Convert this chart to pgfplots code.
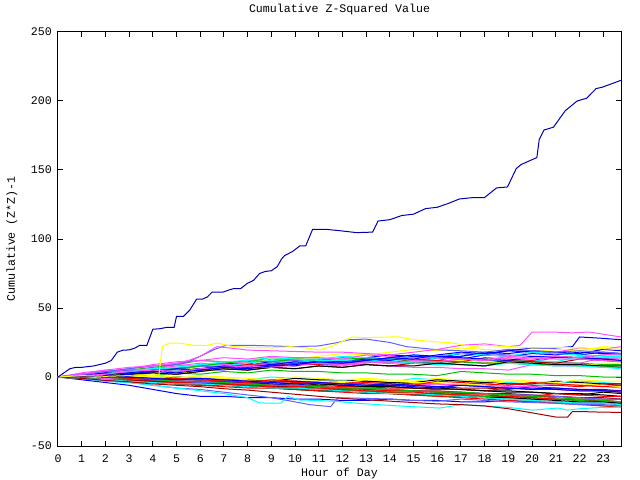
\documentclass[border=0pt]{standalone}
\usepackage{fontspec}
\setmainfont{Liberation Mono}
\usepackage{pgfplots}
\usepackage{pgfplotstable}
\pgfplotsset{compat=1.18}
\definecolor{gred}{RGB}{255,0,0}
\definecolor{ggreen}{RGB}{0,192,0}
\definecolor{gblue}{RGB}{0,0,255}
\definecolor{gmag}{RGB}{255,80,255}
\definecolor{gcyan}{RGB}{0,255,255}
\definecolor{gdred}{RGB}{160,0,0}
\definecolor{gblack}{RGB}{0,0,0}
\definecolor{gyel}{RGB}{255,255,0}
\definecolor{gslate}{RGB}{96,96,255}
\definecolor{gdblue}{RGB}{0,0,176}
\pgfplotstableread{
name 0 1 2 3 4 5 6 7 8 9 10 11 12 13 14 15 16 17 18 19 20 21 22 23 23.75
a1 0 -1 -2 -2 -3 -4 -4 -5 -6 -6 -7 -8 -8 -9 -10 -10 -11 -12 -12 -13 -14 -14 -15 -16 -16
a2 0 1 0 2 1 3 2 4 3 5 4 4 3 3 2 2 1 4 3 2 2 1 1 0 0
a3 0 2 4 3 5 7 6 8 10 9 11 10 12 14 13 12 14 13 16 15 17 16 18 17 17
a4 0 3 5 4 6 9 8 8 7 10 9 9 8 11 10 10 9 9 8 12 11 11 10 14 13
a5 0 1 0 -1 1 0 -1 -2 -2 0 -1 -2 -2 -3 -4 -1 -2 -3 -3 -4 -5 -5 -3 -4 -5
a6 0 -1 -1 0 -1 -2 -3 -3 -4 -4 -5 -3 -4 -5 -6 -6 -7 -8 -8 -9 -7 -8 -9 -9 -10
a7 0 -1 -2 -3 -3 -4 -5 -5 -6 -7 -7 -5 -6 -7 -7 -8 -9 -9 -10 -11 -11 -12 -13 -11 -12
a8 0 1 2 4 6 5 7 9 13 14 13 15 17 16 18 20 19 21 20 19 18 20 19 22 21
a9 0 2 3 2 4 6 5 5 8 7 10 9 9 12 11 11 10 13 12 12 11 14 14 13 15
b1 0 0 -1 -2 -1 -2 -3 -4 -2 -3 -4 -4 -5 -3 -4 -5 -5 -6 -4 -5 -6 -6 -7 -5 -6
b2 0 1 3 5 7 9 12 11 11 14 13 13 12 12 11 10 10 9 8 12 11 10 10 9 9
b3 0 -2 -4 -6 -9 -12 -14 -14 -15 -15 -16 -16 -17 -17 -16 -17 -17 -18 -18 -17 -18 -18 -19 -19 -20
b4 0 2 4 6 9 11 12 11 10 13 12 12 11 14 13 12 15 17 16 20 19 18 21 20 22
b6 0 -1 -2 -3 -2 -3 -4 -5 -6 -7 -8 -9 -9 -10 -11 -12 -12 -13 -14 -14 -15 -16 -17 -17 -18
b7 0 1 0 -1 -1 0 -1 -2 -2 -3 -1 -2 -2 -3 -4 -4 -2 -3 -4 -5 -5 -3 -4 -5 -5
b8 0 -1 0 1 0 -1 1 0 -1 -2 0 -1 -2 -1 -2 -3 -1 -2 -3 -2 -3 -4 -2 -3 -3
c1 0 -1 -1 -2 -3 -3 -4 -4 -5 -5 -6 -6 -7 -7 -8 -8 -9 -9 -10 -8 -9 -9 -10 -10 -11
c2 0 -1 -2 -3 -4 -4 -5 -6 -7 -8 -8 -9 -10 -10 -11 -12 -13 -13 -14 -15 -16 -16 -17 -18 -19
c3 0 1 2 3 5 6 8 10 9 11 13 12 11 14 16 15 14 17 16 19 18 17 16 18 17
c4 0 1 3 5 6 8 10 9 9 8 8 10 9 9 8 7 7 6 6 5 9 8 8 7 7
c5 0 1 2 4 6 5 8 10 12 11 11 10 13 12 12 11 14 13 13 12 12 11 15 14 14
c6 0 1 2 1 3 2 4 6 5 7 6 8 7 9 8 10 9 11 10 12 11 10 13 12 11
c7 0 0 1 0 -1 -1 -2 -3 -3 -4 -5 -5 -6 -7 -7 -8 -8 -9 -10 -10 -11 -12 -12 -13 -14
c8 0 1 1 2 2 3 4 6 8 14 13 12 12 11 10 13 12 12 11 10 10 9 8 10 10
c9 0 2 3 5 4 6 8 7 9 10 12 11 11 10 13 12 12 15 17 16 15 15 14 16 16
d1 0 -1 -2 -3 -3 -4 -5 -6 -6 -7 -8 -8 -9 -10 -11 -11 -12 -13 -13 -14 -15 -16 -16 -17 -18
d2 0 -1 -2 -3 -4 -5 -5 -6 -7 -8 -9 -10 -10 -11 -12 -13 -14 -14 -15 -16 -17 -18 -19 -21 -21
d3 0 1 0 -1 -2 -2 -3 -4 -4 -5 -6 -4 -5 -6 -6 -7 -8 -6 -7 -8 -8 -9 -10 -10 -11
d4 0 -1 -1 -2 -1 -2 -3 -2 -3 -4 -3 -4 -5 -4 -5 -6 -5 -6 -6 -7 -7 -5 -6 -7 -8
d5 0 1 3 4 5 7 9 8 10 12 11 13 15 14 13 16 15 17 16 15 18 17 16 15 15
d6 0 -1 -2 -2 -3 -4 -3 -4 -5 -6 -6 -7 -8 -8 -9 -10 -10 -11 -12 -12 -13 -14 -15 -15 -16
d7 0 -1 -2 -3 -4 -5 -6 -6 -7 -8 -9 -10 -10 -11 -12 -13 -13 -14 -15 -15 -16 -17 -18 -18 -19
d8 0 0 1 2 1 0 0 -1 -2 -2 -3 -3 -4 -2 -3 -4 -4 -5 -6 -3 -4 -5 -5 -6 -7
d9 0 -1 -2 -1 -2 -3 -4 -4 -5 -6 -6 -7 -8 -8 -9 -10 -11 -11 -12 -13 -13 -14 -15 -16 -16
e1 0 1 3 2 4 6 5 7 9 8 10 9 12 11 10 13 12 11 14 13 12 15 14 13 12
e2 0 1 2 3 5 6 8 10 12 11 13 12 14 13 13 12 11 11 10 10 9 9 8 8 7
e3 0 1 3 2 4 6 5 7 6 9 8 12 11 13 12 15 14 14 13 12 15 14 14 13 12
e4 0 2 4 6 8 10 12 14 13 15 14 14 13 16 15 14 14 13 12 15 14 13 13 12 11
e5 0 1 2 4 6 7 9 11 12 14 13 12 12 11 11 10 9 9 8 10 9 8 8 7 6
e6 0 -1 -2 -3 -4 -4 -5 -6 -5 -6 -7 -7 -8 -9 -10 -10 -11 -12 -12 -13 -14 -12 -13 -14 -14
e7 0 0 1 2 3 2 4 6 5 7 6 8 7 9 8 8 10 9 8 11 10 9 9 8 8
e8 0 1 2 3 5 4 6 8 7 9 11 10 10 12 14 16 15 15 18 17 19 18 17 20 19
e9 0 -1 -2 -3 -4 -5 -6 -7 -8 -8 -9 -10 -11 -12 -12 -13 -14 -15 -16 -17 -18 -19 -20 -21 -22
f1 0 -1 -2 -1 -2 -3 -3 -4 -5 -6 -6 -7 -8 -8 -9 -10 -11 -11 -12 -13 -14 -15 -16 -17 -18
f2 0 -1 -2 -3 -4 -5 -5 -6 -7 -8 -8 -9 -10 -11 -12 -12 -13 -14 -15 -16 -17 -18 -19 -19 -20
f3 0 1 0 -1 -2 -1 -2 -3 -4 -2 -3 -4 -5 -4 -5 -6 -3 -4 -5 -6 -4 -5 -6 -7 -6
f4 0 1 2 0 -1 -2 -1 -2 -3 -4 -3 -4 -5 -6 -5 -6 -7 -6 -7 -8 -9 -8 -9 -10 -10
f5 0 1 2 4 5 4 6 7 8 7 9 10 9 11 10 12 11 13 12 14 13 15 14 16 17
}\raw
\pgfplotstabletranspose[colnames from=name]\data{\raw}
\newcommand{\ser}[2]{\addplot[#1] table[x=colnames,y=#2]{\data};}
\begin{document}
\begin{tikzpicture}
\useasboundingbox (-58bp,-34bp) rectangle (582bp,446bp);
\begin{axis}[
  scale only axis, width=563bp, height=414bp,
  at={(0,0)}, anchor=south west,
  xmin=0, xmax=23.75, ymin=-50, ymax=250,
  xtick={0,1,...,23}, ytick={-50,0,50,100,150,200,250},
  tick align=inside, major tick length=5bp,
  xtick pos=both, ytick pos=both,
  axis line style={black, line width=1bp},
  every tick/.style={black, line width=1bp},
  font=\fontsize{11.6bp}{14bp}\selectfont,
  /pgf/number format/assume math mode=true,
  xticklabel style={anchor=center, inner sep=0pt, yshift=-13bp},
  yticklabel style={anchor=east, inner sep=0pt, xshift=-6bp},
  title={Cumulative Z-Squared Value},
  title style={at={([yshift=17bp]axis description cs:0.5,1)}, anchor=center, inner sep=0pt},
  xlabel={Hour of Day},
  xlabel style={at={([yshift=-27bp]axis description cs:0.5,0)}, anchor=center, inner sep=0pt},
  ylabel={Cumulative (Z*Z)-1},
  ylabel style={at={([xshift=-46bp]axis description cs:0,0.5)}, anchor=center, inner sep=0pt, rotate=0},
  every axis plot/.append style={line width=1bp, no markers},
]
\ser{gred}{a1}\ser{ggreen}{a2}\ser{gblue}{a3}\ser{gmag}{a4}\ser{gcyan}{a5}\ser{gdred}{a6}\ser{gblack}{a7}\ser{gyel}{a8}\ser{gslate}{a9}
\ser{gred}{b1}\ser{ggreen}{b2}\ser{gblue}{b3}\ser{gmag}{b4}\ser{gdred}{b6}\ser{gblack}{b7}\ser{gyel}{b8}
\ser{gred}{c1}\ser{ggreen}{c2}\ser{gblue}{c3}\ser{gmag}{c4}\ser{gcyan}{c5}\ser{gdred}{c6}\ser{gblack}{c7}\ser{gyel}{c8}\ser{gslate}{c9}
\ser{gred}{d1}\ser{ggreen}{d2}\ser{gblue}{d3}\ser{gmag}{d4}\ser{gcyan}{d5}\ser{gdred}{d6}\ser{gblack}{d7}\ser{gyel}{d8}\ser{gslate}{d9}
\ser{gred}{e1}\ser{ggreen}{e2}\ser{gblue}{e3}\ser{gmag}{e4}\ser{gcyan}{e5}\ser{gred}{e6}\ser{gblack}{e7}\ser{gblue}{e8}\ser{gred}{e9}
\ser{ggreen}{f1}\ser{gcyan}{f2}\ser{gred}{f3}\ser{gblue}{f4}\ser{gmag}{f5}
% slate blue, lower edge
\addplot[gslate] coordinates {(0,0) (1,-1) (2,-3) (3,-4) (4,-6) (5,-8) (6,-9) (7,-11) (8,-13) (9,-15) (10,-18) (10.6,-20) (11.5,-21.5) (11.8,-15) (13,-15.5) (14,-16) (15,-17) (16,-17.5) (17,-16) (18,-17) (19,-18) (20,-18.5) (21,-19) (22,-20) (23,-20) (23.75,-21)};
% cyan, lower edge
\addplot[gcyan] coordinates {(0,0) (1,-1) (2,-3) (3,-4) (4,-6) (5,-8) (6,-10) (7,-12) (8,-15) (8.5,-18.8) (9.4,-19) (9.7,-14) (10.2,-16.7) (11,-17) (12,-18) (12.6,-19) (13.5,-20) (14.4,-21) (15,-21.5) (16.1,-22.5) (17,-20) (18,-21) (19,-22) (20,-24) (21.1,-22.5) (21.5,-24) (22,-23) (23,-22) (23.75,-22)};
% dark red, lowest
\addplot[gdred] coordinates {(0,0) (1,-1) (2,-2.5) (3,-3.5) (4,-5) (5,-6) (6,-7) (7,-8.5) (8,-9.5) (9,-11) (10,-12.5) (11,-14) (12,-15.5) (13,-16.5) (14,-17.5) (15,-18.5) (16,-19.5) (17,-20) (18,-21) (19,-23) (20,-26) (21,-29) (21.5,-29) (21.7,-25) (22,-25) (23,-25.5) (23.75,-25.6)};
% slate blue, upper
\addplot[gslate] coordinates {(0,0) (1,2) (2,4) (3,6) (4,8) (5,9) (5.5,11) (6,15) (6.6,20) (7.1,23) (8,23) (9,22.5) (10,22) (11,22.5) (11.8,25) (12.3,27) (13,27.5) (14,25) (14.7,22) (16.1,19.6) (17,19) (18,18) (19,20) (20,19) (21,18) (22,19) (23,18) (23.75,17)};
% blue, upper at end
\addplot[gblue] coordinates {(0,0) (1,1) (2,0) (3,2) (4,4) (5,3) (6,5) (7,7) (8,6) (9,8) (10,9) (11,11) (12,10) (13,12) (14,14) (15,13) (16,16) (17,18) (18,17) (19,19) (20,21) (21,21) (21.7,22) (22,29) (23,28) (23.75,27)};
% magenta, upper
\addplot[gmag] coordinates {(0,0) (1,2) (2,5) (3,7) (4,8) (5,10) (5.5,12) (6,15) (6.7,22) (7,21.5) (8,19.5) (9,19) (10,18.5) (11,18) (12,18) (13,17) (14,16) (15,18) (16,20) (17,23) (18,24) (19,22) (19.5,23) (20,32.6) (21,32.5) (21.7,32) (22.4,32.6) (23,31) (23.75,29)};
% yellow, upper
\addplot[gyel] coordinates {(0,0) (1,1) (2,0.5) (3,1) (4,0) (4.25,0.5) (4.4,22) (4.7,24.6) (5.1,24.6) (5.7,23) (6.3,23) (6.7,24.6) (7.4,22) (8,21.5) (9,21) (9.8,22) (10.5,21) (11,19.6) (11.5,22) (11.9,25) (12.4,29) (13,28.5) (14,29) (14.4,29) (15,27) (15.8,25.6) (16.5,25) (17.5,22) (18,23) (19,22) (20,21) (21,21.5) (22,21) (23,20.5) (23.75,20)};
% dark blue, the outlier
\addplot[gdblue] coordinates {(0,0) (0.25,3) (0.5,6) (0.75,7) (1,7) (1.25,7.5) (1.5,8) (1.75,9) (2,10) (2.25,12) (2.5,18) (2.75,19.5) (3,19.6) (3.25,21) (3.45,23) (3.75,23) (4,34.6) (4.3,35) (4.6,36) (4.9,36) (5,44) (5.3,44) (5.56,48.5) (5.85,56.5) (6.1,56.5) (6.3,58) (6.5,61.5) (6.96,61.5) (7.2,63) (7.4,64) (7.7,64) (8,68) (8.25,70) (8.5,75) (8.75,76.5) (9,77) (9.25,80) (9.43,85.5) (9.56,88) (9.9,91) (10.2,95) (10.45,95) (10.74,107) (11.3,107) (11.9,106) (12.6,104.6) (13.27,105) (13.5,113) (14,114) (14.5,117) (15,118) (15.5,122) (16,123) (16.5,126) (16.93,129) (17.5,130) (17.99,130) (18.5,137) (18.96,137.7) (19.33,151) (19.54,154) (20.2,159) (20.3,172) (20.5,179) (20.9,181) (21.4,193) (21.9,200) (22.3,202) (22.7,209) (22.96,210) (23.75,215)};
\end{axis}
\end{tikzpicture}
\end{document}
